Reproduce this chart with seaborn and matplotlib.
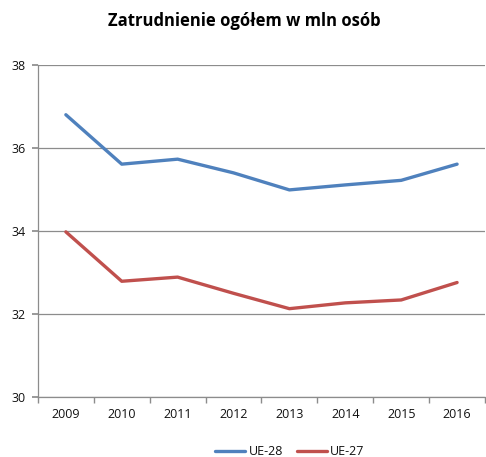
import numpy             as np
import pandas            as pd
import seaborn           as sns
import matplotlib.pyplot as plt

# Data

years  = ["2009", "2010", "2011", "2012", "2013", "2014", "2015", "2016"]
ue28   = [36.80, 35.61, 35.73, 35.40, 34.99, 35.11, 35.22, 35.61]
ue27   = [33.98, 32.79, 32.89, 32.50, 32.13, 32.27, 32.34, 32.76]
series = ["UE-28", "UE-27"]
colors = ["#4F81BD", "#C0504D"]

#####

sns.set_theme(style = "white")
plt.rcParams["font.family"] = ["Open Sans", "DejaVu Sans"]

df = pd.DataFrame({
    "x"    : list(range(len(years))) * 2,
    "val"  : ue28 + ue27,
    "seria": [series[0]] * len(years) + [series[1]] * len(years),
})

fig = plt.figure(figsize = (4.86, 4.57), dpi = 100, facecolor = "white")
ax  = fig.add_axes([0.078, 0.131, 0.920, 0.727])

sns.lineplot(data = df, x = "x", y = "val", hue = "seria", hue_order = series,
             palette = colors, linewidth = 2.4, ax = ax, legend = False)

ax.set_xlim(-0.5, len(years) - 0.5)
ax.set_ylim(30, 38)
ax.set_yticks([30, 32, 34, 36, 38])
ax.set_xticks(range(len(years)))
ax.set_xticklabels(years)
ax.set_xticks(np.arange(-0.5, len(years), 1), minor = True)
ax.yaxis.grid(True, color = "#8c8c8c", linewidth = 0.9)
ax.set_axisbelow(True)

for s in ["top", "right"]:
    ax.spines[s].set_visible(False)
for s in ["left", "bottom"]:
    ax.spines[s].set_color("#8c8c8c")
    ax.spines[s].set_linewidth(0.9)

ax.tick_params(axis = "y", which = "major", length = 4, color = "#8c8c8c", labelsize = 9,
               labelcolor = "#111111", pad = 5, left = True)
ax.tick_params(axis = "x", which = "major", length = 0, labelsize = 9, labelcolor = "#111111", pad = 8)
ax.tick_params(axis = "x", which = "minor", length = 4, color = "#8c8c8c", bottom = True)
ax.set_xlabel("")
ax.set_ylabel("")

fig.text(0.503, 0.953, "Zatrudnienie ogółem w mln osób", ha = "center", va = "center",
         fontsize = 12, fontweight = "bold", color = "black")

handles = [plt.Line2D([], [], color = c, linewidth = 2.4) for c in colors]
leg = fig.legend(handles, series, loc = "center", bbox_to_anchor = (0.596, 0.012), ncol = 2,
                 frameon = False, fontsize = 9, handlelength = 2.4, handletextpad = 0.3,
                 columnspacing = 1.1)
for t in leg.get_texts():
    t.set_color("#111111")

plt.savefig("out.png", dpi = 100, facecolor = "white")
